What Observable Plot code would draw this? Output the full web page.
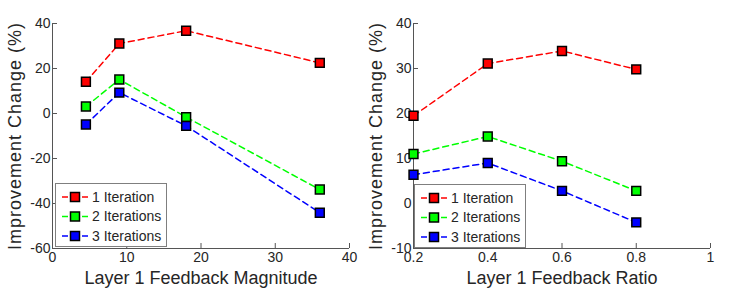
<!DOCTYPE html>
<html><head><meta charset="utf-8">
<script src="https://cdn.jsdelivr.net/npm/d3@7"></script>
<script src="https://cdn.jsdelivr.net/npm/@observablehq/plot@0.6"></script>
<style>
body{margin:0;background:#fff;font-family:"Liberation Sans",Arial,sans-serif;}
#wrap{position:relative;width:747px;height:291px;display:flex;}
#wrap svg{display:block;}
.legend{position:absolute;}
</style></head><body><div id="wrap"></div>
<script>
const series = ["1 Iteration", "2 Iterations", "3 Iterations"];
const colors = ["#ff0000", "#00ff00", "#0000ff"];

const magnitude = [4.5, 9, 18, 36];
const magRed = [14.1, 31.1, 36.8, 22.5];
const magGreen = [3.1, 15.1, -1.6, -33.8];
const magBlue = [-4.9, 9.3, -5.5, -44.1];

const ratio = [0.2, 0.4, 0.6, 0.8];
const ratioRed = [19.5, 31.1, 33.9, 29.8];
const ratioGreen = [11.0, 14.9, 9.4, 2.8];
const ratioBlue = [6.4, 9.0, 2.8, -4.2];

const magXTicks = [0, 10, 20, 30, 40];
const magYTicks = [-60, -40, -20, 0, 20, 40];
const ratioXTicks = [0.2, 0.4, 0.6, 0.8, 1];
const ratioYTicks = [-10, 0, 10, 20, 30, 40];

const yTitle = "Improvement Change (%)";
const magTitle = "Layer 1 Feedback Magnitude";
const ratioTitle = "Layer 1 Feedback Ratio";

const INK = "#262626";
const AXIS = "#555";
const FONT = "'Liberation Sans', Arial, sans-serif";

function panel({x, ys, xDomain, yDomain, xTicks, yTicks, xLabel, width, marginLeft, marginRight}) {
  const data = ys.flatMap((arr, i) => arr.map((v, j) => ({x: x[j], y: v, s: series[i]})));
  const svg = Plot.plot({
    width, height: 291, marginLeft, marginRight, marginTop: 23, marginBottom: 43,
    style: {fontFamily: FONT, fontSize: "14px", color: INK, background: "transparent", overflow: "visible"},
    x: {domain: xDomain},
    y: {domain: yDomain},
    color: {domain: series, range: colors},
    marks: [
      Plot.ruleX([xDomain[0]], {stroke: AXIS}),
      Plot.ruleY([yDomain[0]], {stroke: AXIS}),
      Plot.axisX(xTicks, {tickSize: -5, tickPadding: 9, tickFormat: d => String(d), label: null, stroke: AXIS, fill: INK, fontSize: 14}),
      Plot.axisY(yTicks, {tickSize: -5, tickPadding: 7, tickFormat: d => String(d), label: null, stroke: AXIS, fill: INK, fontSize: 14}),
      Plot.text([xLabel], {frameAnchor: "bottom", dy: 30, fontSize: 18, fill: INK, lineAnchor: "middle", textAnchor: "middle"}),
      Plot.text([yTitle], {frameAnchor: "left", rotate: -90, dx: -37, fontSize: 18, fill: INK, lineAnchor: "middle", textAnchor: "middle"}),
      Plot.line(data, {x: "x", y: "y", z: "s", stroke: "s", strokeDasharray: "6,4", strokeWidth: 1.5}),
      Plot.dot(data, {x: "x", y: "y", fill: "s", stroke: "black", symbol: "square", r: 5, strokeWidth: 1.5})
    ]
  });
  d3.select(svg).selectAll("text").filter(function() { return this.textContent === yTitle; })
    .style("letter-spacing", "1px");
  return svg;
}

const wrap = document.getElementById("wrap");
wrap.appendChild(panel({x: magnitude, ys: [magRed, magGreen, magBlue], xDomain: [0, 40], yDomain: [-60, 40],
  xTicks: magXTicks, yTicks: magYTicks, xLabel: magTitle, width: 374, marginLeft: 52, marginRight: 25}));
wrap.appendChild(panel({x: ratio, ys: [ratioRed, ratioGreen, ratioBlue], xDomain: [0.2, 1], yDomain: [-10, 40],
  xTicks: ratioXTicks, yTicks: ratioYTicks, xLabel: ratioTitle, width: 373, marginLeft: 39, marginRight: 37}));

function legend(left, top) {
  const w = 112, h = 64;
  const ns = "http://www.w3.org/2000/svg";
  const svg = document.createElementNS(ns, "svg");
  svg.setAttribute("width", w); svg.setAttribute("height", h);
  svg.setAttribute("class", "legend");
  svg.style.left = left + "px"; svg.style.top = top + "px";
  let html = `<rect x="0.5" y="0.5" width="${w - 1}" height="${h - 1}" fill="#fff" stroke="#7f7f7f"/>`;
  series.forEach((s, i) => {
    const cy = 14 + i * 19.5;
    html += `<line x1="7" x2="34" y1="${cy}" y2="${cy}" stroke="${colors[i]}" stroke-width="1.5" stroke-dasharray="6,4"/>`;
    html += `<rect x="${20 - 4.5}" y="${cy - 4.5}" width="9" height="9" fill="${colors[i]}" stroke="black" stroke-width="1.5"/>`;
    html += `<text x="37" y="${cy}" dy="0.35em" font-size="14" fill="${INK}" font-family="${FONT.replace(/'/g, "")}">${s}</text>`;
  });
  svg.innerHTML = html;
  wrap.appendChild(svg);
}
legend(55, 183);
legend(414, 184);
</script></body></html>
